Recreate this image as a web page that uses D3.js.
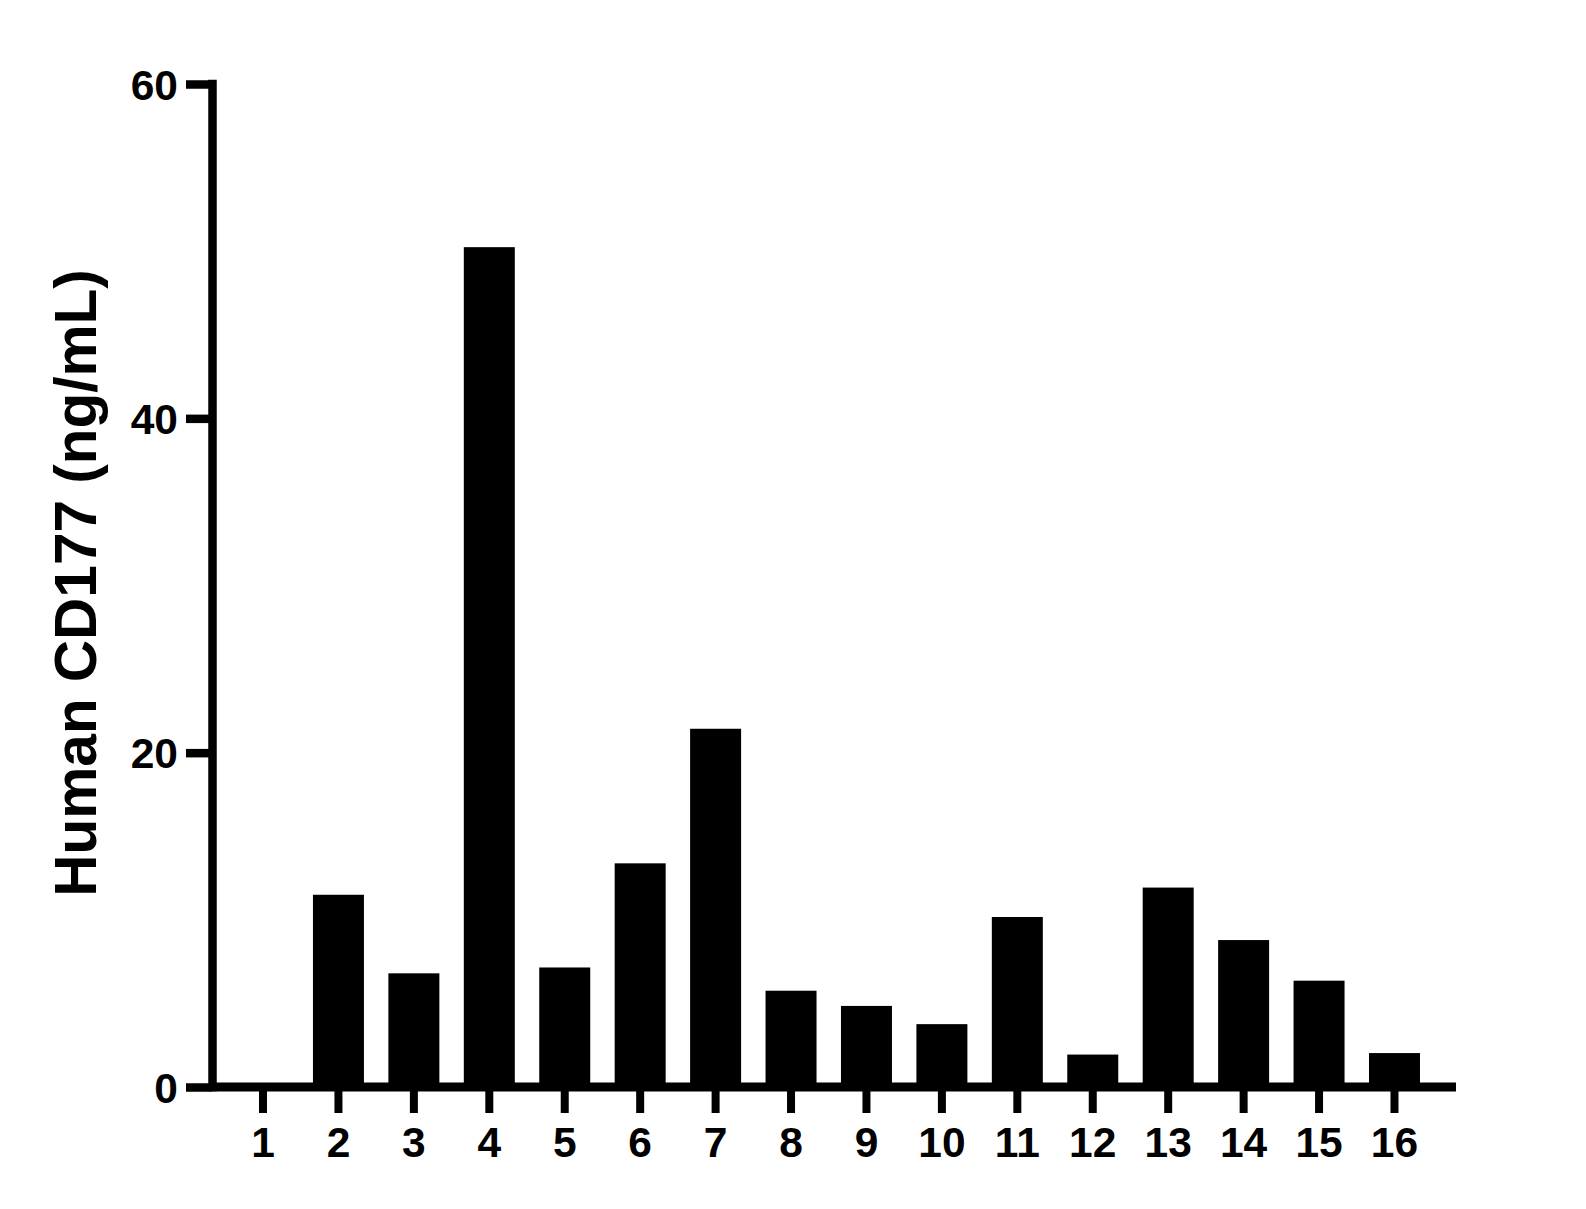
<!DOCTYPE html>
<html>
<head>
<meta charset="utf-8">
<script src="https://cdn.jsdelivr.net/npm/d3@7"></script>
<style>
  html, body { margin: 0; padding: 0; background: #fff; }
  svg { display: block; }
  text { font-family: "Liberation Sans", Arial, sans-serif; font-weight: bold; fill: #000; }
</style>
</head>
<body>
<svg id="chart" width="1586" height="1209"></svg>
<script>
const categories = ["1","2","3","4","5","6","7","8","9","10","11","12","13","14","15","16"];
const values = [0, 11.5, 6.8, 50.24, 7.15, 13.38, 21.43, 5.76, 4.85, 3.76, 10.17, 1.94, 11.93, 8.79, 6.36, 2.03];
const yTicks = [0, 20, 40, 60];
const yLabel = "Human CD177 (ng/mL)";

const svg = d3.select("#chart");
const lw = 8.5;

const x = d3.scaleBand()
  .domain(categories)
  .range([225.3, 1432.2])
  .paddingInner(0.324)
  .paddingOuter(0.162);

const y = d3.scaleLinear().domain([0, 60]).range([1087, 84]);

const axisX = 212.5;

// bars
svg.append("g").selectAll("rect")
  .data(categories.map((c, i) => ({c, v: values[i]})))
  .join("rect")
  .attr("x", d => x(d.c))
  .attr("width", x.bandwidth())
  .attr("y", d => y(d.v))
  .attr("height", d => y(0) - y(d.v))
  .attr("fill", "#000");

// y axis
const gy = svg.append("g").attr("transform", `translate(${axisX},0)`)
  .call(d3.axisLeft(y).tickValues(yTicks).tickSize(26.5).tickSizeOuter(0).tickPadding(8).tickFormat(d3.format("d")));
gy.select(".domain").remove();
gy.selectAll(".tick line").attr("stroke", "#000").attr("stroke-width", lw);
gy.selectAll(".tick text").attr("font-size", 42.5).attr("dy", "0.36em").style("font-family", '"Liberation Sans", Arial, sans-serif').style("font-weight", "bold");

// x axis
const gx = svg.append("g").attr("transform", `translate(0,${y(0)})`)
  .call(d3.axisBottom(x).tickSize(26).tickSizeOuter(0).tickPadding(14));
gx.select(".domain").remove();
gx.selectAll(".tick line").attr("stroke", "#000").attr("stroke-width", 8);
gx.selectAll(".tick text").attr("font-size", 42.5).style("font-family", '"Liberation Sans", Arial, sans-serif').style("font-weight", "bold");

// axis lines
svg.append("line")
  .attr("x1", axisX).attr("x2", axisX)
  .attr("y1", y(60) - lw / 2).attr("y2", y(0) + lw / 2)
  .attr("stroke", "#000").attr("stroke-width", lw);
svg.append("line")
  .attr("x1", axisX).attr("x2", 1456)
  .attr("y1", y(0)).attr("y2", y(0))
  .attr("stroke", "#000").attr("stroke-width", lw + 0.5);

// y label
svg.append("text")
  .attr("transform", `translate(96,583) rotate(-90)`)
  .attr("text-anchor", "middle")
  .attr("font-size", 58.5)
  .text(yLabel);
</script>
</body>
</html>
